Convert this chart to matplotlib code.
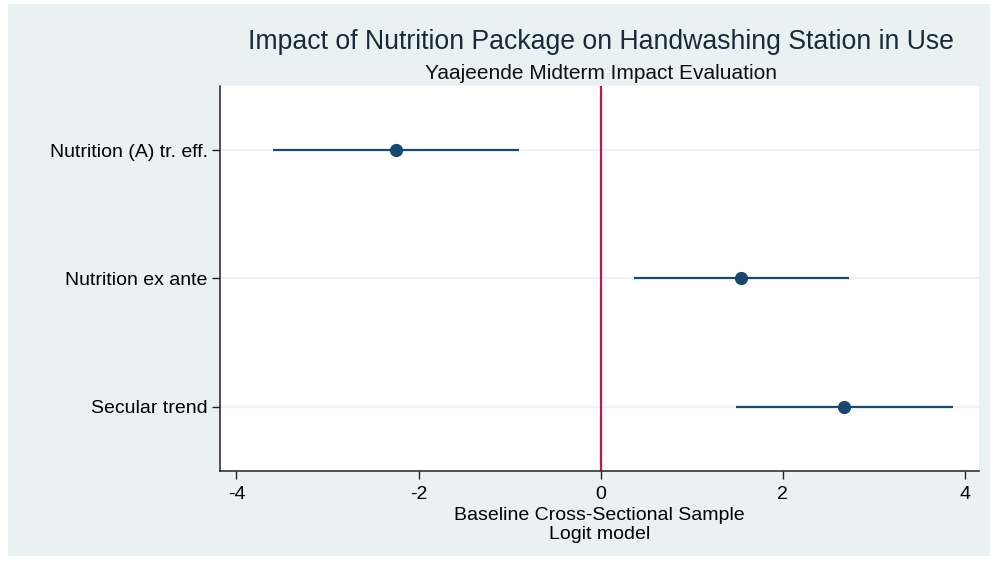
import numpy as np
import matplotlib
matplotlib.use("Agg")
import matplotlib.pyplot as plt
from matplotlib.patches import Rectangle

# coefficient estimates with 95% CI (logit)
labels = ["Nutrition (A) tr. eff.", "Nutrition ex ante", "Secular trend"]
coef = [-2.25, 1.54, 2.67]
ci_lo = [-3.60, 0.37, 1.49]
ci_hi = [-0.90, 2.73, 3.87]
xticks = [-4, -2, 0, 2, 4]

NAVY = "#1a476f"
RED = "#cc1144"
BG = "#e9f1f3"

plt.rcParams["font.family"] = ["Liberation Sans", "DejaVu Sans"]
fig = plt.figure(figsize=(9.97, 5.62), dpi=100, facecolor="white")
fig.patches.append(Rectangle((0.008, 0.01), 0.985, 0.982, transform=fig.transFigure,
                             facecolor=BG, edgecolor="none", zorder=-10))
ax = fig.add_axes([0.2207, 0.162, 0.761, 0.685])
ax.set_facecolor("white")

y = np.arange(1, len(labels) + 1)
for yi in y:
    ax.axhline(yi, color="#edf2f4", lw=1.6, zorder=0)
ax.axvline(0, color=RED, lw=1.6, zorder=1)
ax.hlines(y, ci_lo, ci_hi, color=NAVY, lw=1.6, zorder=2)
ax.plot(coef, y, "o", color=NAVY, ms=8.5, zorder=3)

ax.set_xlim(-4.18, 4.15)
ax.set_ylim(3.5, 0.5)
ax.set_xticks(xticks)
ax.set_xticklabels([str(t) for t in xticks])
ax.set_yticks(y)
ax.set_yticklabels(labels)
ax.tick_params(axis="both", labelsize=14, length=6, width=1, color="#222222", pad=3)
ax.tick_params(axis="x", pad=5)
for s in ["top", "right"]:
    ax.spines[s].set_visible(False)
for s in ["left", "bottom"]:
    ax.spines[s].set_color("#222222")
    ax.spines[s].set_linewidth(1.1)

ax.set_xlabel("Baseline Cross-Sectional Sample\nLogit model", fontsize=14, labelpad=3,
              linespacing=1.1)
fig.text(0.603, 0.925, "Impact of Nutrition Package on Handwashing Station in Use",
         ha="center", va="center", fontsize=19.2, color="#1a2a3a")
fig.text(0.603, 0.870, "Yaajeende Midterm Impact Evaluation",
         ha="center", va="center", fontsize=15, color="#111111")

fig.savefig("out.png", dpi=100, facecolor=fig.get_facecolor())
